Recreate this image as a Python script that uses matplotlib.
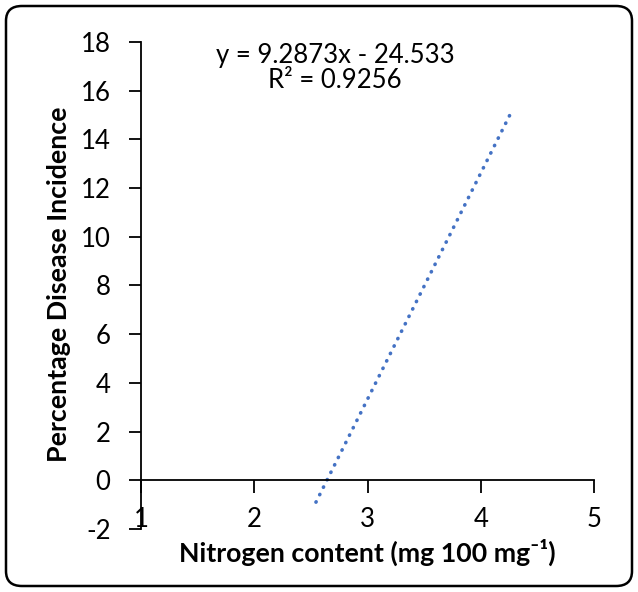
import matplotlib
matplotlib.use("Agg")
import matplotlib.pyplot as plt
from matplotlib.patches import FancyBboxPatch

# Data (trendline endpoints)
trend_x = [2.545, 4.265]
slope = 9.2873
intercept = -24.533
trend_y = [slope * v + intercept for v in trend_x]
x_ticks = [1, 2, 3, 4, 5]
y_ticks = [-2, 0, 2, 4, 6, 8, 10, 12, 14, 16, 18]
eq_text = "y = 9.2873x - 24.533"
r2_text = "R² = 0.9256"
xlabel = "Nitrogen content (mg 100 mg⁻¹)"
ylabel = "Percentage Disease Incidence"

plt.rcParams['font.family'] = ['Lato', 'DejaVu Sans']

W, H = 638, 592
fig = plt.figure(figsize=(W / 100, H / 100), dpi=100)

# rounded border
border = FancyBboxPatch((6 / W, 6 / H), (W - 12) / W, (H - 12) / H,
                        boxstyle="round,pad=0,rounding_size=0.025",
                        transform=fig.transFigure, fill=False,
                        edgecolor='black', linewidth=1.8)
fig.patches.append(border)

ax = fig.add_axes([141 / W, 1 - 529 / H, (594 - 141) / W, (529 - 42) / H])
ax.set_xlim(1, 5)
ax.set_ylim(-2, 18)

ax.plot(trend_x, trend_y, color='#4472C4', linewidth=2.6,
        linestyle=(0, (0.1, 2.2)), dash_capstyle='round')

for s in ['top', 'right']:
    ax.spines[s].set_visible(False)
ax.spines['bottom'].set_position(('data', 0))
ax.spines['left'].set_linewidth(1.3)
ax.spines['bottom'].set_linewidth(1.3)

TICK_FS = 18.5
ax.set_xticks(x_ticks)
ax.set_yticks(y_ticks)
ax.set_yticklabels([str(v) for v in y_ticks])
ax.tick_params(axis='y', direction='out', length=9, width=1.3, pad=13, labelsize=TICK_FS)
ax.tick_params(axis='x', direction='out', length=9, width=1.3, labelbottom=False)

for t in x_ticks:
    ax.text(t, 2 / (529 - 42), str(t), transform=ax.get_xaxis_transform(),
            ha='center', va='baseline', fontsize=TICK_FS)

fig.text(335 / W, 1 - 63 / H, eq_text, ha='center', va='baseline', fontsize=TICK_FS)
fig.text(335 / W, 1 - 88 / H, r2_text, ha='center', va='baseline', fontsize=TICK_FS)

fig.text(367 / W, 1 - 562 / H, xlabel, ha='center', va='baseline', fontsize=19.3,
         fontweight='bold')
fig.text(59 / W, 1 - 284 / H, ylabel, ha='center', va='center', fontsize=19.3,
         fontweight='bold', rotation=90)

fig.savefig("out.png", dpi=100)
